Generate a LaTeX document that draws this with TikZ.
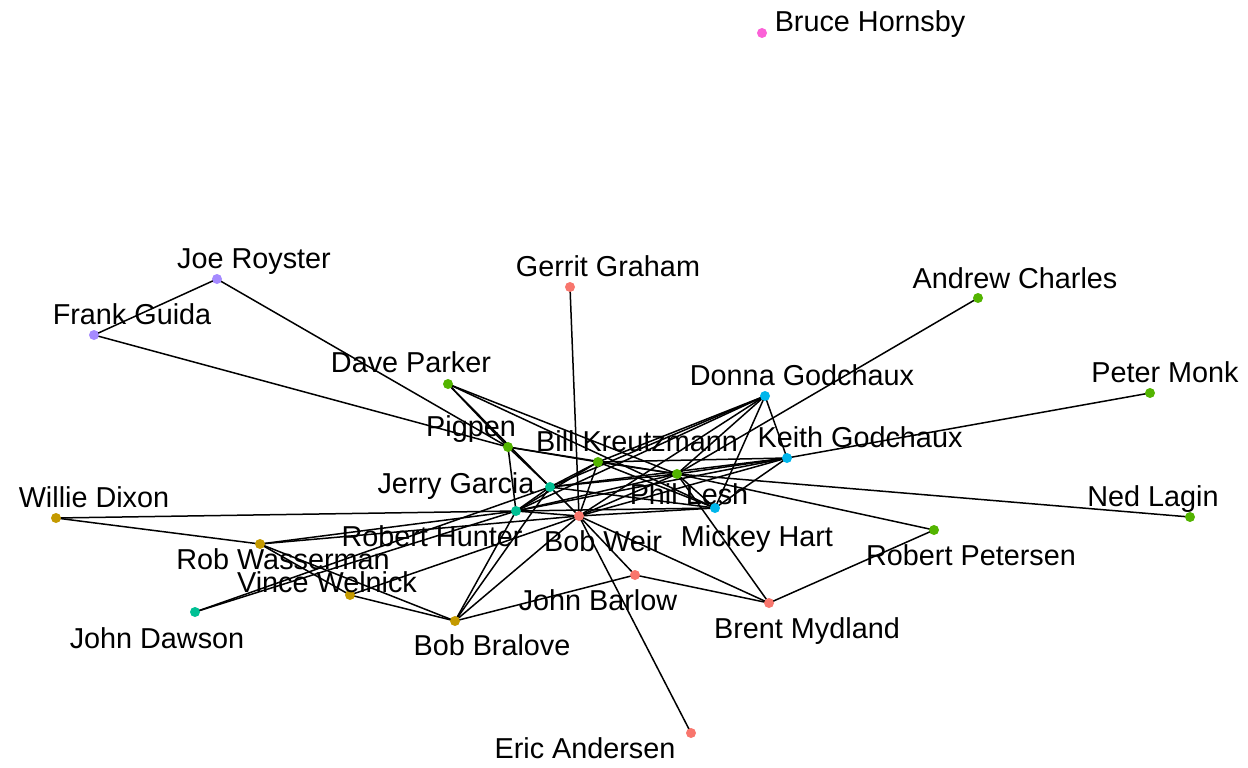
\documentclass[tikz,border=0pt]{standalone}
\usepackage{fontspec}
\setmainfont{Liberation Sans}
\definecolor{csal}{HTML}{F8766D}
\definecolor{cgold}{HTML}{C49A00}
\definecolor{cgreen}{HTML}{53B400}
\definecolor{cteal}{HTML}{00C094}
\definecolor{cblue}{HTML}{00B6EB}
\definecolor{clav}{HTML}{A58AFF}
\definecolor{cpink}{HTML}{FB61D7}
\pgfdeclarelayer{bg}
\pgfsetlayers{bg,main}
\begin{document}
\begin{tikzpicture}[x=1pt,y=-1pt,
  dot/.style={circle,fill=#1,draw=none,inner sep=0pt,minimum size=10pt},
  lab/.style={anchor=base,inner sep=0pt,font=\fontsize{28.8}{30}\selectfont},
  edge/.style={line width=1.5pt,black}]
\useasboundingbox (0,0) rectangle (1248,768);
% nodes
\node[dot=cpink]  (BH) at (762,33) {};
\node[dot=csal]   (GG) at (570,287) {};
\node[dot=clav]   (JR) at (217,279) {};
\node[dot=clav]   (FG) at (94,335) {};
\node[dot=cgreen] (AC) at (978,298) {};
\node[dot=cgreen] (DP) at (448,384) {};
\node[dot=cblue]  (DG) at (765,396) {};
\node[dot=cgreen] (PM) at (1150,393) {};
\node[dot=cgreen] (PP) at (508,447) {};
\node[dot=cgreen] (BK) at (598,462) {};
\node[dot=cblue]  (KG) at (787,458) {};
\node[dot=cgreen] (PL) at (677,474) {};
\node[dot=cteal]  (JG) at (550,487) {};
\node[dot=cblue]  (MH) at (715,508) {};
\node[dot=cgold]  (WD) at (56,518) {};
\node[dot=cgreen] (NL) at (1190,517) {};
\node[dot=cteal]  (RH) at (516,511) {};
\node[dot=csal]   (BW) at (579,516) {};
\node[dot=cgreen] (RP) at (934,530) {};
\node[dot=cgold]  (RW) at (260,544) {};
\node[dot=cgold]  (VW) at (350,595) {};
\node[dot=csal]   (JB) at (635,575) {};
\node[dot=cteal]  (JD) at (195,612) {};
\node[dot=cgold]  (BB) at (455,621) {};
\node[dot=csal]   (BM) at (769,603) {};
\node[dot=csal]   (EA) at (691,733) {};
% edges
\begin{pgfonlayer}{bg}
\foreach \a/\b in {JR/FG, JR/PP, FG/PP, GG/BW, AC/PL, PM/KG, NL/PL, RP/PL, RP/BM,
  BM/PL, BM/BW, BM/JB, JB/BW, JB/BB, EA/BW, WD/RH, WD/RW, RW/RH, RW/BW, RW/BB, RW/VW,
  VW/BB, VW/BW, JD/JG, JD/RH, BB/RH, BB/JG, BB/BW,
  JG/RH, JG/BW, JG/PL, JG/BK, JG/MH, JG/PP, JG/KG, JG/DG,
  RH/BW, RH/PL, RH/BK, RH/MH, RH/PP, RH/KG, RH/DG,
  BW/PL, BW/BK, BW/MH, BW/KG, BW/DG,
  PL/BK, PL/MH, PL/PP, PL/KG, PL/DG,
  BK/MH, BK/PP, BK/KG, BK/DG,
  MH/KG, MH/DG, KG/DG,
  DP/PP, DP/JG, DP/PL, DP/MH}
  \draw[edge] (\a.center) -- (\b.center);
\end{pgfonlayer}
% labels
\node[lab] (BHl) at (870,32) {Bruce Hornsby};
\node[lab] (GGl) at (608,276) {Gerrit Graham};
\node[lab] (JRl) at (254,268) {Joe Royster};
\node[lab] (FGl) at (132,324) {Frank Guida};
\node[lab] (ACl) at (1015,288) {Andrew Charles};
\node[lab] (DPl) at (411,372) {Dave Parker};
\node[lab] (DGl) at (802,385) {Donna Godchaux};
\node[lab] (PMl) at (1165,382) {Peter Monk};
\node[lab] (PPl) at (471,436) {Pigpen};
\node[lab] (BKl) at (637,451) {Bill Kreutzmann};
\node[lab] (KGl) at (860,447) {Keith Godchaux};
\node[lab] (JGl) at (456,493) {Jerry Garcia};
\node[lab] (PLl) at (689,504) {Phil Lesh};
\node[lab] (WDl) at (94,507) {Willie Dixon};
\node[lab] (NLl) at (1153,506) {Ned Lagin};
\node[lab] (RHl) at (432,546) {Robert Hunter};
\node[lab] (BWl) at (603,551) {Bob Weir};
\node[lab] (MHl) at (757,546) {Mickey Hart};
\node[lab] (RPl) at (971,565) {Robert Petersen};
\node[lab] (RWl) at (283,569) {Rob Wasserman};
\node[lab] (VWl) at (327,592) {Vince Welnick};
\node[lab] (JBl) at (598,610) {John Barlow};
\node[lab] (JDl) at (157,648) {John Dawson};
\node[lab] (BBl) at (492,655) {Bob Bralove};
\node[lab] (BMl) at (807,638) {Brent Mydland};
\node[lab] (EAl) at (585,758) {Eric Andersen};
\end{tikzpicture}
\end{document}
